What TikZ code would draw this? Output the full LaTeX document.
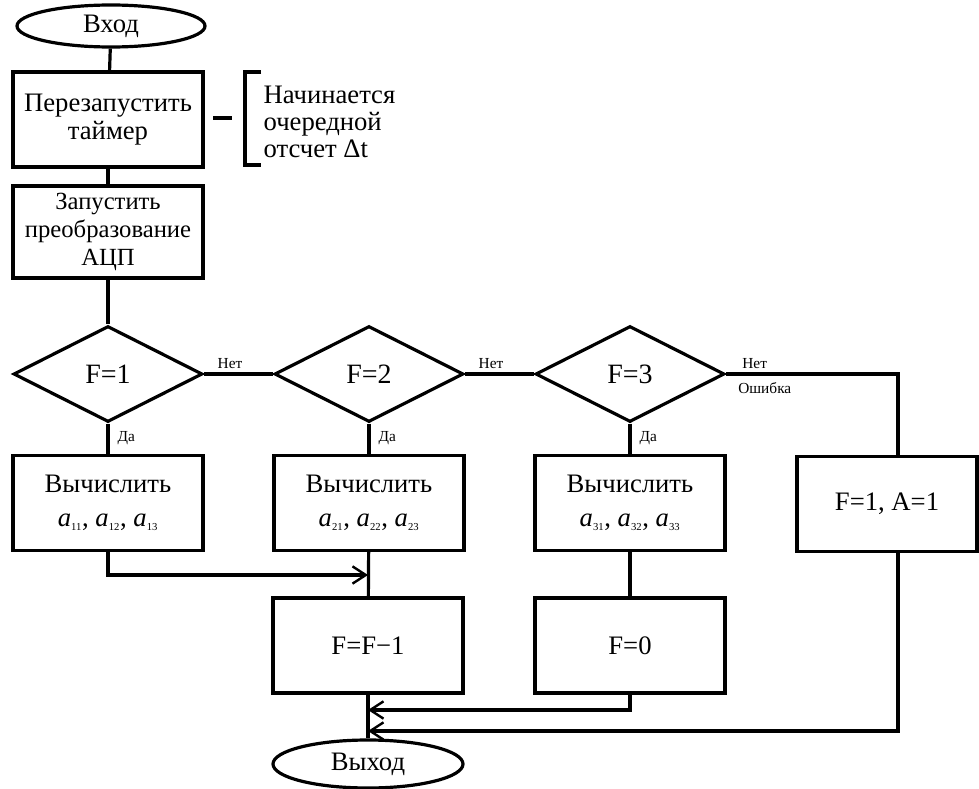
\documentclass[tikz,border=0pt]{standalone}
\usepackage{fontspec}
\setmainfont{Liberation Serif}
\usetikzlibrary{shapes.geometric,arrows.meta}

\newcommand{\sbs}[1]{\textsubscript{\fontsize{8}{8}\selectfont #1}}

\begin{document}
\begin{tikzpicture}[x=0.75pt, y=-0.75pt, line width=2.4pt,
  >={Straight Barb[length=10pt,width=13pt,line width=1.8pt]},
  block/.style={draw, rectangle, minimum width=142.5pt, minimum height=71.25pt, align=center, inner sep=2pt, font=\fontsize{20}{21}\selectfont},
  cond/.style={draw, diamond, minimum width=141.75pt, minimum height=72pt, inner sep=0pt, font=\fontsize{21}{22}\selectfont},
  term/.style={draw, ellipse, minimum width=141pt, minimum height=31.5pt, inner sep=0pt, font=\fontsize{20}{21}\selectfont},
  lbl/.style={inner sep=1pt, font=\fontsize{11.5}{12}\selectfont}]
\fill[white] (0,0) rectangle (979,789);
\useasboundingbox (0,0) rectangle (979,789);

\node[term] (start) at (111,26) {Вход};
\node[block] (restart) at (108,119.5) {Перезапустить\\таймер};
\node[block, minimum height=69pt, font=\fontsize{18.5}{21}\selectfont] (adc) at (108,232) {Запустить\\преобразование\\АЦП};
\node[align=left, anchor=west, inner sep=0pt, font=\fontsize{20}{20.5}\selectfont] (note) at (262,122) {Начинается\\очередной\\отсчет Δt};
\draw (213,118) -- (232,118);
\draw (261,72) -- (245,72) -- (245,165) -- (261,165);

\node[cond] (f1) at (108,374) {F=1};
\node[cond] (f2) at (369,374) {F=2};
\node[cond] (f3) at (630,374) {F=3};

\node[block] (calc1) at (108,503) {Вычислить\\[4pt]\textit{a}\sbs{11}, \textit{a}\sbs{12}, \textit{a}\sbs{13}};
\node[block] (calc2) at (369,503) {Вычислить\\[4pt]\textit{a}\sbs{21}, \textit{a}\sbs{22}, \textit{a}\sbs{23}};
\node[block] (calc3) at (630,503) {Вычислить\\[4pt]\textit{a}\sbs{31}, \textit{a}\sbs{32}, \textit{a}\sbs{33}};
\node[block, minimum width=135pt] (err) at (887,504) {F=1, A=1};

\node[block] (dec) at (368,645.5) {F=F−1};
\node[block] (zero) at (630,645.5) {F=0};
\node[term, minimum width=142.5pt, minimum height=36pt] (stop) at (368,764) {Выход};

\coordinate (j1) at (368,575);
\coordinate (j2) at (368,710);
\coordinate (j3) at (368,731);

\draw (start) -- (restart);
\draw (restart) -- (adc);
\draw (adc) -- (f1);
\draw (f1) -- (f2);
\draw (f2) -- (f3);
\draw (f3.east) -| ([xshift=8.25pt]err.north);
\draw (f1) -- (calc1);
\draw (f2) -- (calc2);
\draw (f3) -- (calc3);
\draw[->] (calc1.south) |- (j1);
\draw (calc2) -- (dec);
\draw (calc3) -- (zero);
\draw[->] (zero.south) |- (j2);
\draw[->] ([xshift=8.25pt]err.south) |- (j3);
\draw (dec) -- (stop);

\node[lbl, anchor=south west] at ([xshift=8pt,yshift=2pt]f1.east) {Нет};
\node[lbl, anchor=south west] at ([xshift=8pt,yshift=2pt]f2.east) {Нет};
\node[lbl, anchor=south west] at ([xshift=10pt,yshift=2pt]f3.east) {Нет};
\node[lbl, anchor=north west] at ([xshift=7pt,yshift=-4pt]f3.east) {Ошибка};
\node[lbl, anchor=north west] at ([xshift=5pt,yshift=-4pt]f1.south) {Да};
\node[lbl, anchor=north west] at ([xshift=5pt,yshift=-4pt]f2.south) {Да};
\node[lbl, anchor=north west] at ([xshift=5pt,yshift=-4pt]f3.south) {Да};
\end{tikzpicture}
\end{document}
